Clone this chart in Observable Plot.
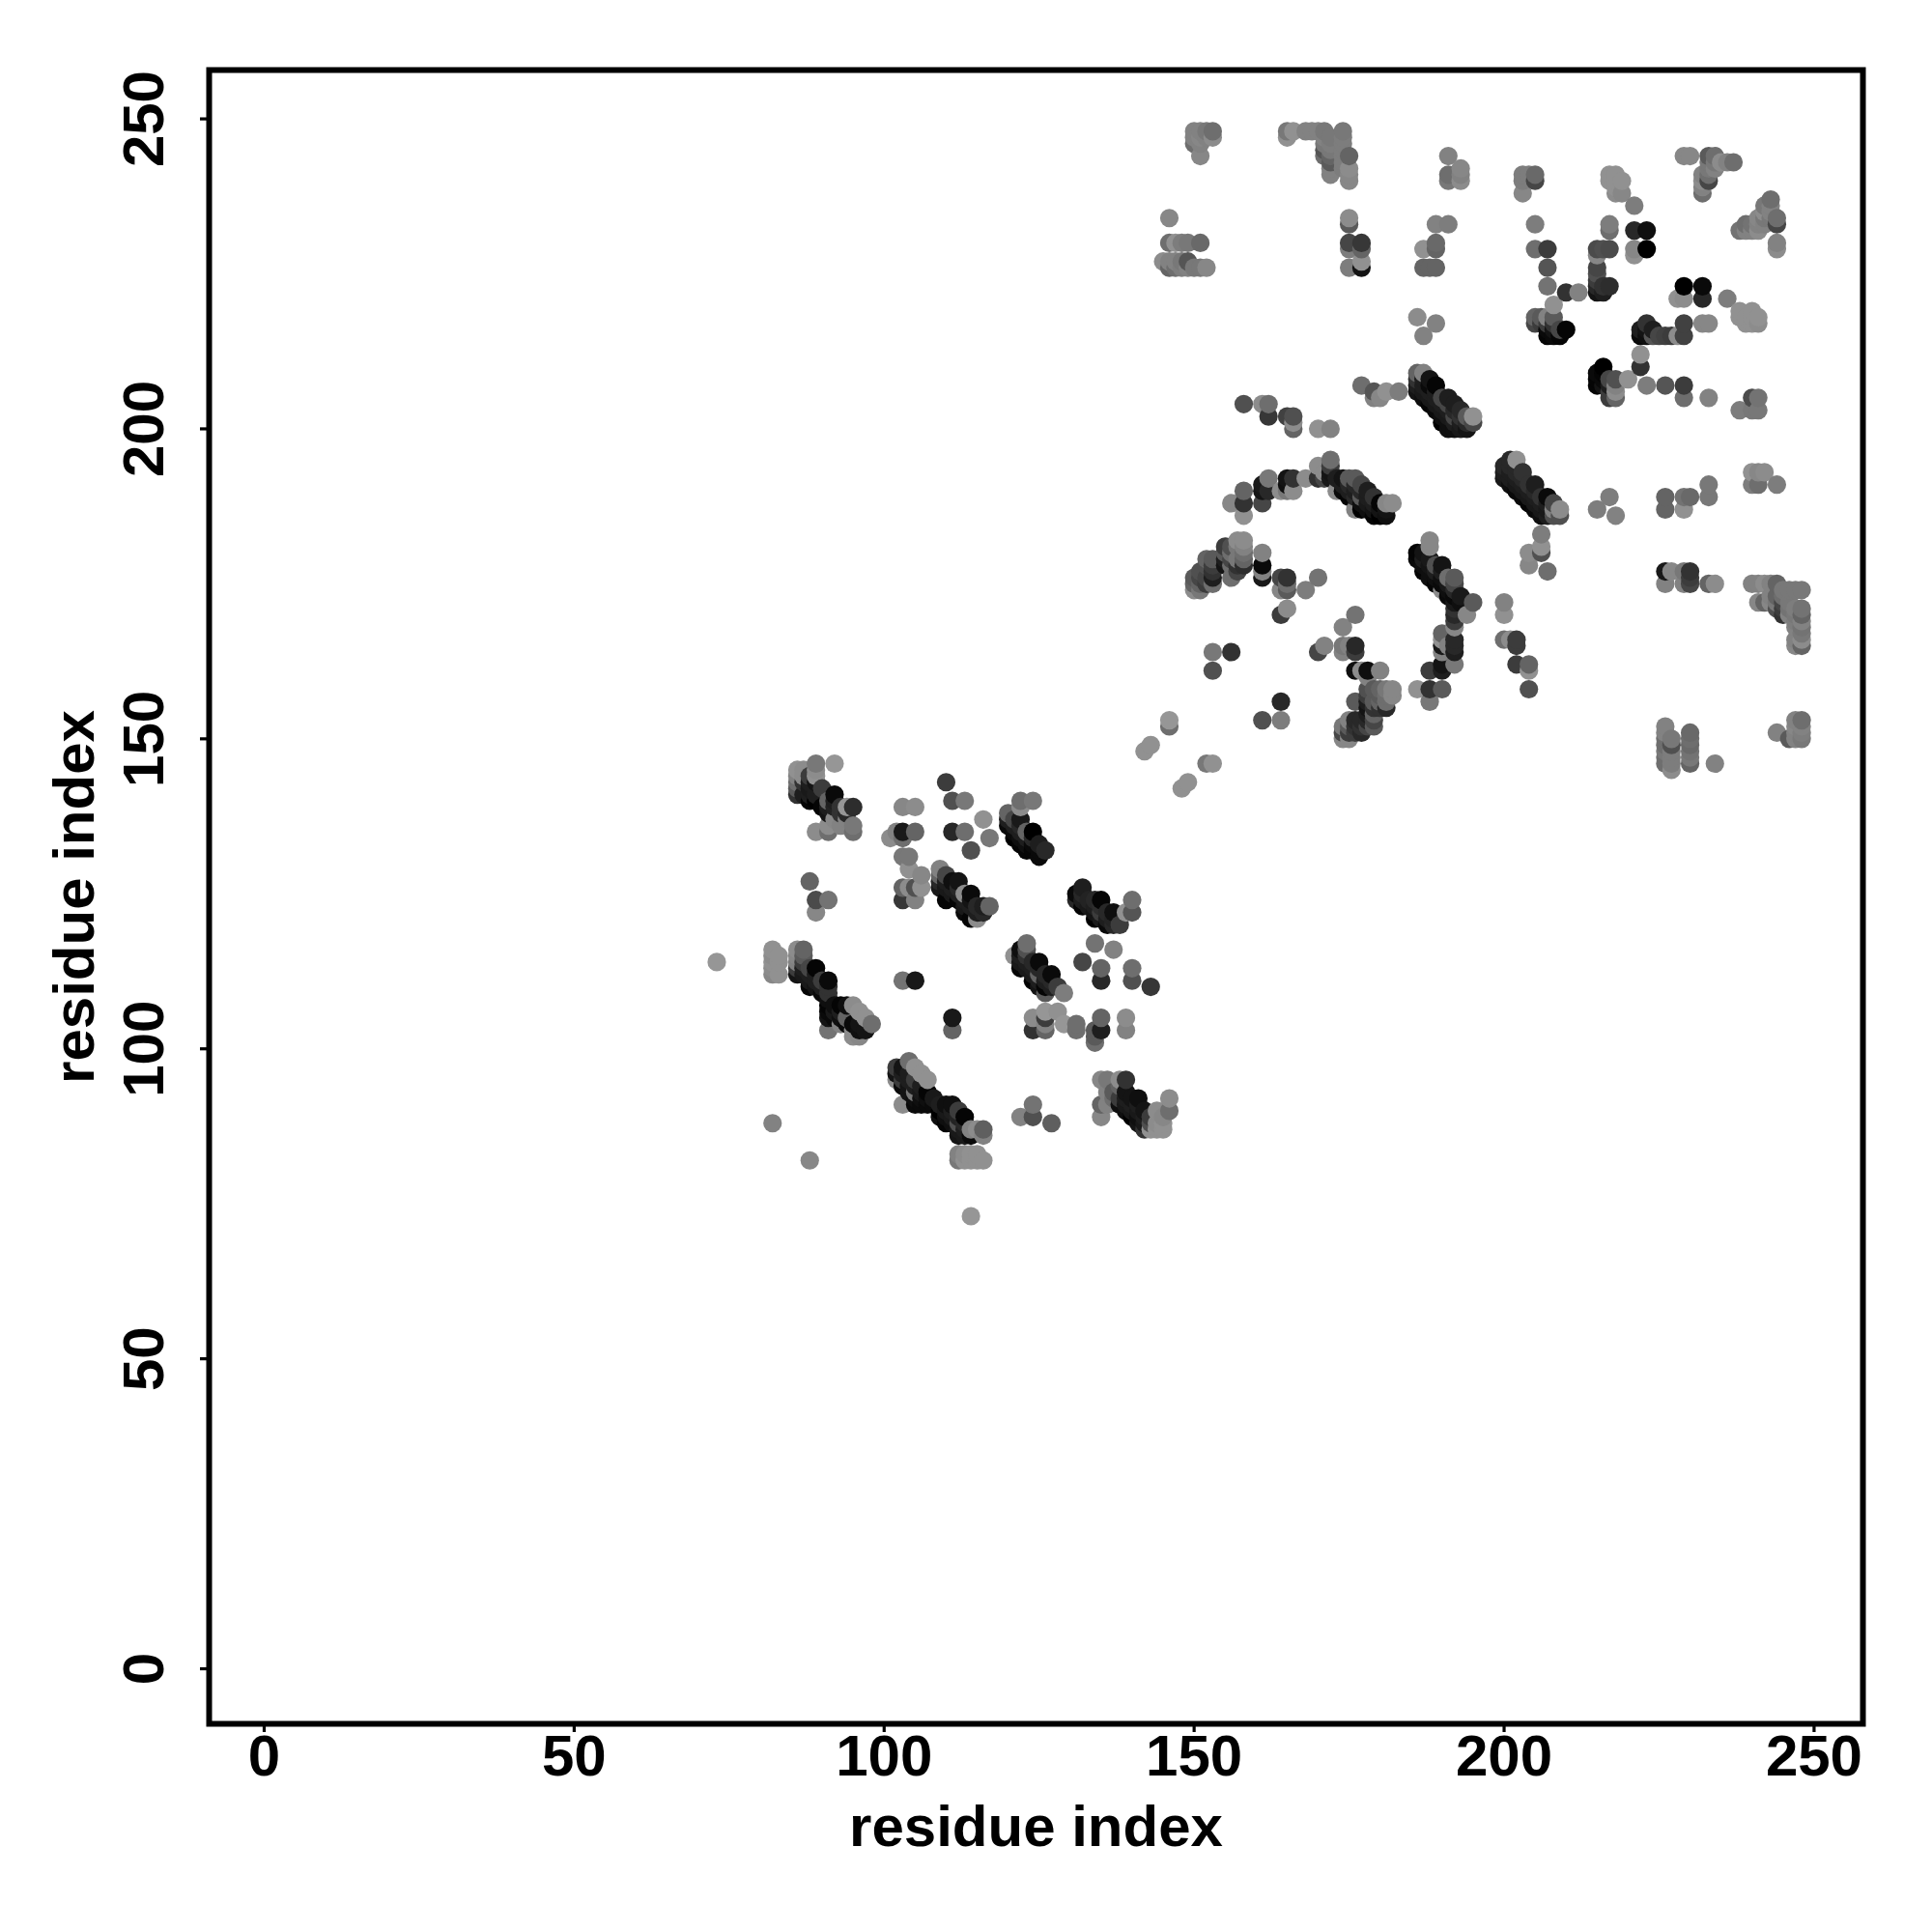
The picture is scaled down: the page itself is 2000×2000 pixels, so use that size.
<!DOCTYPE html>
<html>
<head>
<meta charset="utf-8">
<script src="https://cdn.jsdelivr.net/npm/d3@7"></script>
<script src="https://cdn.jsdelivr.net/npm/@observablehq/plot@0.6"></script>
<style>html,body{margin:0;padding:0;background:#fff}svg{display:block}</style>
</head>
<body>
<div id="chart"></div>
<script>
// Each contact: [residue i, residue j, grey shade]
const strandA = [[86,145,145],[87,145,140],[86,144,130],[86,143,110],[86,142,90],[86,141,50],[87,141,30],[87,144,140],[87,143,50],[88,143,30],[88,144,60],[89,143,20],[89,146,120],[92,146,150],[89,145,140],[89,144,145],[88,142,25],[88,141,30],[88,140,5],[89,140,0],[89,141,30],[90,142,60],[90,139,5],[91,139,30],[91,140,100],[92,141,10],[92,140,30],[91,138,20],[92,139,35],[93,138,50],[93,139,50],[94,138,40],[94,139,150],[95,139,45],[89,135,140],[91,135,110],[91,136,140],[93,136,130],[95,135,110],[95,136,120],[92,137,135],[94,137,130]];
const patchB = [[110,143,60],[111,140,80],[113,140,120],[103,139,135],[105,139,140],[116,137,145],[117,134,120],[114,132,80],[111,135,40],[113,135,110],[101,134,140],[102,135,130],[103,135,25],[105,135,100],[103,134,110],[103,131,120],[104,131,120],[104,129,145],[106,128,135],[106,126,145],[103,126,100],[104,126,140],[105,126,80],[103,124,55],[105,124,130],[88,127,100],[89,124,75],[91,124,115],[89,122,135]];
const strandC = [[122,140,110],[124,140,120],[122,139,140],[120,138,100],[120,137,30],[120,136,10],[121,137,70],[121,136,30],[121,135,10],[121,134,0],[122,137,25],[122,136,40],[122,135,30],[122,134,15],[122,133,5],[123,135,100],[123,134,30],[123,133,15],[123,132,5],[124,135,0],[124,134,40],[124,133,10],[124,132,5],[125,133,30],[125,132,10],[125,131,10],[126,132,40]];
const strandD = [[109,129,130],[109,128,100],[109,127,40],[110,128,70],[110,127,30],[110,126,25],[111,127,15],[109,126,25],[110,124,5],[111,126,30],[111,125,25],[112,127,20],[112,126,40],[112,125,30],[112,124,5],[113,125,140],[113,124,30],[113,123,25],[113,122,10],[114,125,10],[114,124,20],[114,123,30],[114,121,5],[115,123,40],[115,122,30],[115,121,140],[116,122,40],[116,123,30],[117,123,100]];
const strandE = [[132,126,30],[131,125,10],[131,124,40],[132,125,40],[132,124,30],[132,123,5],[133,124,35],[133,123,25],[134,124,40],[134,123,30],[134,122,20],[134,121,0],[135,124,5],[135,123,45],[135,122,60],[135,121,25],[136,122,40],[136,121,30],[136,120,10],[137,122,15],[137,121,35],[137,120,40],[138,120,60],[139,122,145],[140,124,110],[140,122,85]];
const scatterF = [[134,117,115],[137,116,130],[132,114,70],[135,113,100],[135,111,40],[140,113,110],[140,111,80],[143,110,55],[103,111,115],[105,111,25],[111,105,25],[111,103,100],[124,91,115],[122,89,130],[124,89,80],[127,88,95],[82,88,130],[88,82,135],[114,73,150],[73,114,150]];
const strandG = [[123,117,110],[121,115,145],[122,116,15],[122,115,30],[122,114,25],[122,113,5],[123,116,80],[123,115,50],[123,114,30],[123,113,25],[124,114,40],[124,113,30],[124,112,25],[124,111,0],[125,114,10],[125,113,40],[125,112,100],[125,111,30],[125,110,20],[126,112,40],[126,111,30],[126,110,5],[126,109,90],[127,112,10],[127,111,40],[127,110,30],[128,110,60],[129,109,125]];
const patchH = [[124,105,140],[126,106,150],[126,105,60],[126,104,130],[128,106,145],[124,103,50],[126,103,100],[129,104,150],[131,104,110],[131,103,110],[135,105,100],[135,103,30],[134,103,90],[134,102,90],[134,101,110],[139,105,140],[139,103,130]];
const strandI = [[82,116,145],[83,115,145],[82,115,140],[82,114,145],[83,114,145],[82,113,140],[82,112,135],[83,112,145],[86,116,140],[87,116,100],[86,115,135],[86,114,130],[86,113,60],[86,112,20],[87,115,90],[87,114,60],[87,113,30],[87,112,25],[88,113,70],[88,112,30],[88,111,25],[88,110,5],[89,113,5],[89,112,30],[89,111,30],[89,110,20],[90,111,60],[90,110,30],[90,109,10],[91,111,10],[91,110,50],[91,109,50],[91,108,15],[91,107,5],[91,106,10],[91,105,20],[91,103,115],[92,107,15],[92,106,25],[92,105,10],[93,107,5],[93,106,30],[93,105,15],[93,104,130],[94,107,15],[94,105,100],[94,104,10],[95,107,140],[95,104,10],[95,103,140],[95,102,140],[96,106,145],[96,104,20],[96,103,15],[96,102,135],[97,105,145],[97,103,20],[98,104,110]];
const strandJ = [[104,98,110],[102,96,20],[102,97,60],[102,95,140],[103,97,20],[103,96,30],[103,95,60],[103,94,10],[103,91,140],[105,97,145],[104,96,30],[104,95,30],[104,94,20],[104,93,20],[106,96,145],[105,95,60],[105,94,30],[105,93,120],[105,92,15],[105,91,10],[107,95,145],[106,94,30],[106,93,25],[106,92,15],[106,91,10],[107,93,5],[107,92,15],[107,91,10],[108,92,25],[108,91,10],[109,91,30],[109,90,0],[109,89,15],[110,91,15],[110,90,25],[110,89,15],[110,88,5],[111,91,15],[111,90,30],[111,89,25],[111,88,15],[112,90,60],[112,89,35],[112,88,80],[112,87,25],[112,86,20],[113,89,5],[113,88,40],[113,87,30],[113,86,25],[114,87,130],[114,86,10],[115,87,140],[116,87,95],[116,86,130]];
const tailK = [[112,83,130],[112,82,120],[113,83,140],[113,82,145],[114,83,145],[114,82,145],[115,83,145],[115,82,145],[116,82,145]];
const strandL = [[135,95,135],[136,95,120],[139,95,50],[138,95,140],[136,93,130],[135,91,100],[136,91,130],[135,89,135],[137,93,90],[137,92,110],[138,94,100],[138,91,15],[138,92,60],[139,93,20],[139,92,30],[139,91,25],[139,90,15],[140,92,20],[140,91,30],[140,90,25],[140,89,0],[141,92,15],[141,91,30],[141,90,25],[141,89,15],[141,88,20],[142,90,20],[142,89,30],[142,88,25],[142,87,50],[143,89,60],[143,88,80],[143,87,145],[144,90,140],[144,88,140],[144,87,145],[145,89,135],[145,88,145],[145,87,145],[146,92,140],[146,90,110]];
const lowerMid = [[146,153,150],[146,152,110],[143,149,145],[142,148,145],[152,146,120],[153,146,145],[149,143,145],[148,142,145],[153,164,120],[156,164,50],[153,161,80],[164,156,40],[161,153,80],[164,153,125],[170,164,70],[171,165,130],[174,168,130],[176,170,115],[174,165,120],[174,164,130],[175,165,130],[176,165,40],[176,164,60],[176,161,15],[177,161,140],[178,161,15],[180,161,130],[178,160,130]];
const patchM = [[178,158,80],[178,157,60],[180,158,100],[179,158,90],[182,158,135],[181,158,120],[182,157,135],[181,157,110],[181,156,110],[180,157,90],[180,156,100],[178,156,30],[176,156,90],[181,155,40],[180,155,50],[179,156,90],[179,155,50],[179,154,100],[178,155,20],[178,154,30],[178,153,40],[176,153,40],[175,153,130],[177,153,40],[177,152,50],[179,153,70],[179,152,90],[177,151,40],[176,152,50],[176,151,60],[175,152,90],[175,151,60],[174,152,120],[174,151,70],[174,150,135],[175,150,135],[178,152,70]];
const curveN = [[188,182,135],[188,181,135],[186,180,5],[186,179,10],[187,180,20],[187,179,30],[187,178,15],[187,177,5],[188,179,25],[188,178,20],[188,177,15],[188,176,15],[190,178,20],[189,178,80],[189,177,30],[189,176,15],[189,175,5],[190,177,30],[190,176,15],[190,175,10],[190,174,140],[191,176,110],[191,175,25],[191,174,15],[191,173,10],[192,176,90],[192,175,70],[192,174,40],[192,173,10],[193,173,25],[193,172,15],[195,172,90],[192,172,25],[192,171,50],[192,170,40],[194,170,135],[192,169,60],[192,168,135],[190,167,100],[190,166,145],[192,166,40],[192,165,40],[192,164,30],[190,165,25],[190,164,130],[191,165,130],[192,162,120],[190,162,20],[190,161,30],[188,161,60],[186,158,145],[188,158,50],[190,158,90],[188,156,120]];
const patchO = [[200,172,130],[200,170,145],[200,166,110],[201,166,140],[202,166,60],[202,165,60],[202,162,60],[204,162,100],[204,161,145],[204,158,80],[206,183,125],[206,181,145],[204,180,140],[206,180,80],[204,178,135],[207,177,110]];
const strandP = [[202,195,145],[201,195,40],[200,194,40],[200,193,30],[200,192,25],[201,194,40],[201,193,30],[201,192,30],[201,191,15],[203,193,50],[202,194,40],[202,193,40],[202,192,30],[202,191,25],[202,190,10],[203,192,40],[203,191,30],[203,190,25],[203,189,10],[204,191,50],[204,190,30],[204,189,25],[204,188,5],[205,191,30],[205,190,40],[205,189,30],[205,188,25],[205,187,10],[206,189,50],[206,188,30],[206,187,25],[206,186,15],[207,189,10],[207,188,30],[207,187,25],[207,186,30],[208,188,70],[208,187,130],[208,186,80],[209,187,140],[209,186,80]];
const arcQ = [[172,195,110],[172,194,60],[172,193,20],[172,192,25],[170,194,140],[170,192,50],[171,193,140],[171,192,70],[173,192,30],[174,192,20],[174,191,30],[175,192,90],[176,192,90],[175,191,40],[174,190,10],[175,190,30],[175,189,5],[176,191,40],[176,190,30],[176,189,40],[176,187,130],[177,191,70],[177,190,40],[177,189,90],[177,188,15],[177,187,0],[178,190,30],[178,189,30],[178,188,25],[178,187,15],[179,189,50],[179,188,30],[179,187,20],[179,186,5],[180,188,5],[180,187,20],[180,186,0],[181,188,135],[181,187,20],[181,186,15],[182,188,140],[173,190,140],[168,192,140],[165,192,20],[166,192,50],[165,191,15],[165,190,120],[164,190,140],[166,190,140],[162,192,120],[161,190,20],[162,190,40],[161,191,25],[161,188,70],[158,190,100],[158,188,50],[156,188,135],[158,186,145]];
const arcR = [[158,182,140],[157,182,140],[158,181,130],[158,180,110],[156,181,80],[155,181,60],[157,181,120],[161,180,130],[161,178,10],[161,176,25],[161,177,130],[158,179,100],[158,178,45],[157,179,120],[157,178,50],[156,178,110],[155,180,90],[155,179,30],[155,178,20],[156,180,110],[156,179,70],[153,179,90],[152,179,100],[152,178,80],[153,178,60],[153,177,50],[153,176,30],[153,175,110],[151,177,80],[151,176,70],[152,176,70],[152,175,60],[156,176,110],[157,177,70],[150,176,90],[150,175,100],[150,174,140],[151,175,100],[151,174,120],[164,176,70],[165,176,50],[165,175,110],[165,174,90],[164,174,135],[168,174,125],[170,176,115],[164,170,60],[165,171,140]];
const upperMid = [[158,204,80],[161,204,140],[162,204,110],[162,202,55],[165,202,65],[166,202,80],[166,201,140],[166,200,100],[170,200,145],[172,200,130],[177,207,110],[179,206,85],[179,205,130],[180,205,135],[181,206,145],[183,206,125],[186,218,140],[189,217,130],[187,215,130]];
const topLeft = [[150,248,130],[151,248,130],[152,248,120],[153,248,110],[153,247,140],[150,247,130],[150,246,110],[151,247,135],[151,246,130],[152,247,130],[151,244,135],[165,248,120],[166,248,145],[165,247,145],[168,248,130],[169,248,130],[170,248,130],[171,248,120],[174,248,120],[174,247,125],[171,247,130],[171,246,120],[171,245,85],[172,247,120],[172,246,125],[172,245,120],[172,244,100],[171,244,110],[172,243,90],[172,242,130],[172,241,130],[174,246,125],[174,245,125],[174,244,125],[174,243,125],[175,244,100],[174,242,125],[175,242,140],[175,241,135],[175,240,135]];
const leftCols = [[146,234,135],[146,230,110],[147,230,145],[148,230,125],[149,230,120],[151,230,105],[145,227,140],[146,226,100],[146,227,130],[147,227,130],[147,226,110],[148,227,120],[148,226,125],[149,227,85],[149,226,130],[150,226,120],[151,226,120],[152,226,135],[175,234,140],[175,233,90],[175,230,70],[177,230,55],[177,229,100],[175,229,125],[175,226,125],[177,227,145],[177,226,20]];
const diagS = [[186,209,100],[187,209,130],[186,208,50],[186,207,30],[186,206,20],[187,208,30],[187,207,30],[187,206,25],[187,205,15],[188,208,20],[188,207,10],[188,206,30],[188,205,25],[188,204,5],[189,207,5],[189,206,30],[189,205,30],[189,204,25],[189,203,10],[190,205,70],[190,204,30],[190,203,25],[190,202,15],[190,201,0],[191,205,30],[191,204,70],[191,203,30],[191,202,25],[191,201,15],[191,200,15],[192,204,30],[192,203,40],[192,202,70],[192,201,30],[192,200,15],[193,203,40],[193,202,50],[193,201,30],[193,200,25],[194,202,90],[194,201,40],[194,200,20],[195,202,145],[195,201,70],[191,244,130],[191,241,110],[193,242,135],[191,240,120],[193,240,140],[193,241,130],[189,233,130],[191,233,125],[187,229,145],[189,230,105],[189,229,100],[187,226,100],[189,226,100],[188,226,100]];
const colsT = [[203,241,125],[205,241,105],[204,241,125],[205,240,70],[203,240,125],[203,238,135],[217,241,145],[218,241,145],[217,240,145],[218,240,145],[219,240,145],[218,239,145],[218,238,140],[219,238,135],[221,236,125],[205,233,125],[205,229,110],[207,229,60],[207,226,85],[207,223,115],[210,222,50],[212,222,130],[217,233,125],[217,232,110],[215,229,75],[217,229,75],[216,229,80],[215,228,135],[215,226,70],[215,225,80],[215,224,60],[215,223,40],[215,222,20],[216,223,50],[216,222,30],[217,223,45],[221,232,40],[223,232,15],[221,229,135],[221,228,145],[223,229,0]];
const cornerU = [[229,244,135],[230,244,135],[233,244,90],[234,244,110],[232,241,130],[233,243,120],[233,242,120],[233,241,110],[233,240,70],[234,243,120],[234,242,130],[235,243,140],[236,243,130],[237,243,110],[232,238,110],[232,240,140],[232,239,130],[243,237,110],[242,236,120],[242,235,140],[243,236,130],[243,235,130],[244,234,110],[244,233,70],[241,234,135],[241,233,130],[240,233,115],[239,233,110],[238,232,115],[240,232,130],[241,232,140],[239,232,130],[242,234,120],[242,233,130],[243,234,120],[244,230,130],[244,229,140]];
const midRight = [[229,223,0],[232,223,10],[232,221,40],[228,221,145],[229,221,140],[236,221,125],[238,219,145],[240,219,145],[238,218,145],[239,218,145],[240,218,145],[241,218,145],[239,217,145],[240,217,145],[241,217,140],[229,217,65],[229,215,65],[232,217,135],[233,217,135],[223,217,50],[222,216,30],[222,215,10],[223,216,20],[223,215,15],[224,216,30],[224,215,85],[225,215,70],[226,215,65],[227,215,60],[228,215,140],[208,220,145],[205,218,100],[206,218,90],[205,217,70],[206,217,60],[207,218,130],[208,218,90],[207,217,60],[208,217,50],[207,216,10],[207,215,5],[208,216,20],[208,215,10],[209,216,70],[209,215,5],[210,216,5],[222,212,145],[222,210,50]];
const diagV = [[216,210,0],[215,209,10],[216,209,5],[215,208,5],[215,207,5],[216,208,10],[216,207,20],[217,208,70],[217,207,30],[217,206,60],[218,208,80],[218,207,130],[218,206,140],[217,205,60],[218,205,100],[220,208,145],[223,207,125],[226,207,85],[229,207,60],[229,205,110],[233,205,130],[240,205,75],[241,205,115],[238,203,125],[240,203,120],[241,203,120],[240,193,145],[241,193,135],[242,193,140],[240,191,125],[241,191,110],[244,191,125],[217,189,125],[215,187,125],[218,186,130],[226,189,100],[226,187,100],[229,189,115],[230,189,105],[229,187,145],[233,191,120],[233,189,120]];
const lowRight = [[226,177,25],[227,177,135],[226,175,130],[230,177,50],[229,177,120],[230,176,60],[230,175,70],[229,175,130],[233,175,100],[234,175,140],[240,175,130],[241,175,130],[242,175,140],[243,175,130],[244,175,100],[245,174,120],[246,174,120],[247,174,120],[248,174,120],[241,172,135],[242,172,100],[243,172,135],[243,173,130],[244,173,100],[244,172,120],[244,171,80],[245,173,110],[245,172,70],[245,171,60],[245,170,50],[246,172,120],[246,171,115],[246,170,130],[247,171,125],[247,170,120],[247,169,125],[248,171,115],[248,170,100],[248,169,130],[247,168,130],[248,168,115],[248,167,120],[247,166,130],[248,166,140],[247,165,135],[248,165,100]];
const bottomRight = [[226,152,130],[226,151,130],[226,150,110],[226,149,110],[226,148,120],[227,150,120],[227,149,80],[227,148,125],[226,147,110],[226,146,110],[227,147,125],[227,146,125],[227,145,140],[230,151,105],[230,150,110],[230,149,105],[230,148,115],[230,147,120],[230,146,100],[234,146,130],[244,151,130],[247,153,130],[248,153,110],[247,152,135],[248,152,130],[247,151,130],[248,151,125],[246,150,90],[247,150,130],[248,150,120]];

const tickValues = [0, 50, 100, 150, 200, 250];
const axisLabel = "residue index";

const contacts = [strandA, patchB, strandC, strandD, strandE, scatterF, strandG, patchH, strandI, strandJ, tailK, strandL, lowerMid, patchM, curveN, patchO, strandP, arcQ, arcR, upperMid, topLeft, leftCols, diagS, colsT, cornerU, midRight, diagV, lowRight, bottomRight].flat();
const rows = d3.sort(contacts.map(([i, j, shade]) => ({i, j, shade})), d => d.i, d => d.j);

const font = {fontFamily: "'Liberation Sans', Arial, sans-serif", fontWeight: "bold", fontSize: 60, fill: "#000"};

const chart = Plot.plot({
  width: 2000,
  height: 2000,
  marginLeft: 216,
  marginRight: 72,
  marginTop: 72,
  marginBottom: 216,
  style: {background: "#fff", fontFamily: "'Liberation Sans', Arial, sans-serif"},
  x: {domain: [-8.88, 257.88], label: null},
  y: {domain: [-8.88, 257.88], label: null},
  color: {type: "linear", domain: [0, 150], range: ["#000000", "#969696"]},
  marks: [
    Plot.dot(rows, {x: "i", y: "j", r: 9.6, fill: "shade"}),
    Plot.frame({stroke: "#000", strokeWidth: 6}),
    Plot.axisX({ticks: tickValues, tickSize: 9, tickPadding: 2, strokeWidth: 3.2, tickFormat: d => d, label: axisLabel, labelAnchor: "center", labelOffset: 126, labelArrow: "none", ...font}),
    Plot.axisY({ticks: tickValues, tickSize: 9, tickPadding: 39, tickRotate: -90, strokeWidth: 3.2, tickFormat: d => d, label: axisLabel, labelAnchor: "center", labelOffset: 162, labelArrow: "none", ...font})
  ]
});
document.getElementById("chart").appendChild(chart);
</script>
</body>
</html>
